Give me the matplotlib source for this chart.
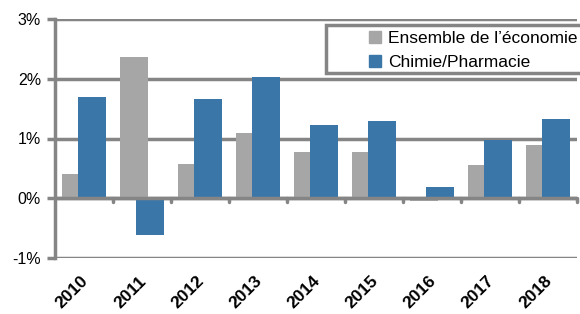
import matplotlib.pyplot as plt
import matplotlib.ticker as tik
import numpy as np

# data (growth, %)
years = ["2010", "2011", "2012", "2013", "2014", "2015", "2016", "2017", "2018"]
ensemble = [0.41, 2.36, 0.58, 1.09, 0.78, 0.78, -0.04, 0.55, 0.89]
chimie = [1.69, -0.62, 1.66, 2.03, 1.22, 1.29, 0.19, 0.98, 1.32]

plt.rcParams['font.family'] = ['Liberation Sans', 'DejaVu Sans']

fig = plt.figure(figsize=(5.8, 3.14), dpi=100)
ax = fig.add_axes([55/580, (314-258)/314, 522/580, 239/314])

grid_col = "#858585"
gray = "#a6a6a6"
blue = "#3a76a8"

x = np.arange(len(years))
w = 0.48
off = 0.138
ax.bar(x - off, ensemble, w, color=gray, zorder=3)
ax.bar(x + off, chimie, w, color=blue, zorder=4)

ax.set_xlim(-0.5, len(years) - 0.5)
ax.set_ylim(-1, 3)
ax.yaxis.set_major_locator(tik.MultipleLocator(1))
ax.yaxis.set_major_formatter(tik.FuncFormatter(lambda v, p: "%d%%" % v))
ax.grid(axis='y', color=grid_col, linewidth=2.5, zorder=0)
ax.axhline(0, color=grid_col, linewidth=2.5, zorder=5)

for s in ['top', 'right', 'bottom']:
    ax.spines[s].set_visible(False)
ax.spines['left'].set_color(grid_col)
ax.spines['left'].set_linewidth(2.5)

# category boundary ticks on the 0 line
for b in np.arange(0.5, len(years), 1.0):
    ax.plot([b, b], [0, -0.07], color=grid_col, linewidth=2.5,
            solid_capstyle='round', zorder=5, clip_on=False)

ax.set_xticks(x - 0.06)
ax.set_xticklabels(years, rotation=45, ha='right', rotation_mode='anchor',
                   fontsize=12.5, fontweight='bold')
ax.tick_params(axis='x', length=0, pad=11)
ax.tick_params(axis='y', length=6, width=2.5, color=grid_col, labelsize=11.5, pad=4)

# legend: frame reaching past the right edge, as in the source
fig.patches.append(plt.Rectangle((326/580, 1 - 73/314), 300/580, 48/314,
                                 transform=fig.transFigure, fill=True,
                                 facecolor='white', edgecolor=grid_col,
                                 linewidth=2.5, zorder=10))
leg = fig.legend(handles=[plt.Rectangle((0, 0), 1, 1, color=gray),
                          plt.Rectangle((0, 0), 1, 1, color=blue)],
                 labels=["Ensemble de l\u2019économie", "Chimie/Pharmacie"],
                 loc='upper left', bbox_to_anchor=(369/580, 1 - 31/314),
                 frameon=False, fontsize=12.5, handlelength=0.7,
                 handleheight=0.7, handletextpad=0.4, borderpad=0,
                 labelspacing=0.5, borderaxespad=0)
leg.set_zorder(11)

plt.savefig("out.png", dpi=100)
